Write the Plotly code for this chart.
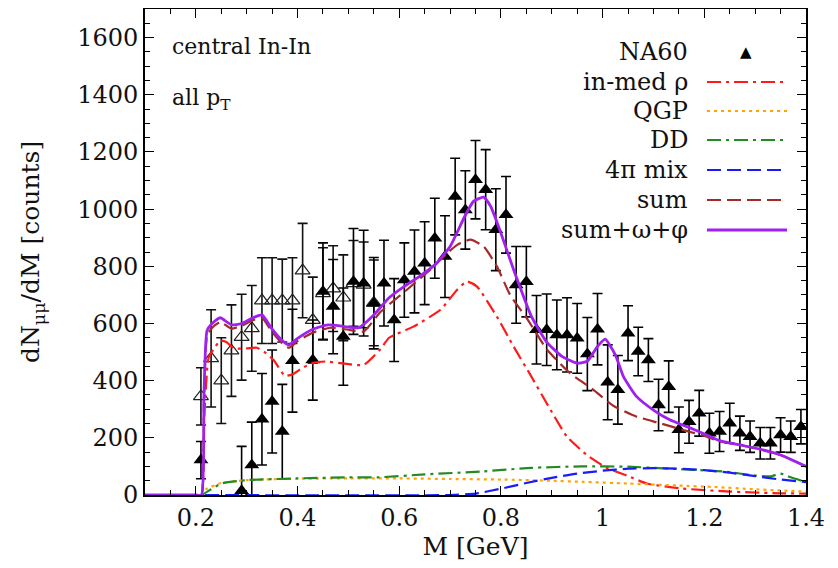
import plotly.graph_objects as go

# ---------------- data ----------------
# NA60 filled triangles
na60_m = [0.21, 0.29, 0.31, 0.33, 0.35, 0.37, 0.39, 0.43, 0.45, 0.47, 0.49, 0.51, 0.53, 0.55,
          0.57, 0.59, 0.61, 0.63, 0.65, 0.67, 0.69, 0.71, 0.73, 0.75, 0.77, 0.79, 0.81, 0.83,
          0.85, 0.87, 0.89, 0.91, 0.93, 0.95, 0.97, 0.99, 1.01, 1.03, 1.05, 1.07, 1.09, 1.11,
          1.13, 1.15, 1.17, 1.19, 1.21, 1.23, 1.25, 1.27, 1.29, 1.31, 1.33, 1.35, 1.37, 1.39]
na60_n = [122, 15, 105, 265, 327, 222, 470, 472, 712, 659, 554, 747, 741, 671,
          741, 612, 752, 782, 811, 898, 834, 1044, 997, 1103, 1068, 928, 980, 735,
          746, 578, 578, 560, 560, 548, 493, 580, 394, 368, 566, 502, 472, 315,
          379, 228, 256, 286, 216, 222, 251, 216, 204, 181, 181, 210, 204, 239]
na60_err = [65, 155, 150, 160, 180, 165, 180, 140, 170, 165, 170, 185, 185, 160,
            150, 145, 130, 145, 145, 140, 143, 134, 137, 137, 140, 143, 134, 134,
            123, 120, 125, 122, 130, 122, 128, 125, 131, 120, 96, 85, 75, 90,
            90, 80, 75, 80, 70, 70, 70, 60, 55, 55, 55, 60, 55, 60]

# open triangles
open_m = [0.21, 0.23, 0.25, 0.27, 0.29, 0.31, 0.33, 0.35, 0.37, 0.39, 0.41, 0.43, 0.45,
          0.47, 0.49, 0.51, 0.53, 0.55]
open_n = [345, 478, 400, 505, 552, 583, 680, 680, 680, 680, 785, 612, 705,
          722, 690, 740, 735, 672]
open_err = [100, 170, 150, 160, 150, 150, 150, 150, 145, 150, 165, 150, 160,
            150, 150, 150, 150, 150]

# theory curves
rho_m = [0.10, 0.20, 0.211, 0.216, 0.225, 0.235, 0.248, 0.26, 0.275, 0.30, 0.32, 0.335, 0.353,
         0.375, 0.39, 0.41, 0.43, 0.455, 0.485, 0.53, 0.563, 0.58, 0.628, 0.681, 0.714, 0.733,
         0.753, 0.792, 0.825, 0.858, 0.89, 0.93, 0.969, 1.008, 1.048, 1.087, 1.153, 1.25, 1.35, 1.40]
rho_n = [0, 0, 0, 250, 480, 510, 540, 535, 513, 513, 515, 500, 472,
         417, 422, 445, 462, 467, 461, 455, 510, 550, 589, 648, 718, 747,
         729, 624, 519, 420, 321, 204, 140, 95, 68, 40, 23, 12, 6, 5]

qgp_m = [0.10, 0.20, 0.211, 0.22, 0.25, 0.30, 0.40, 0.50, 0.60, 0.70, 0.80, 0.90, 0.96, 1.05,
         1.15, 1.22, 1.30, 1.40]
qgp_n = [0, 0, 0, 20, 42, 52, 57, 58, 58, 56, 54, 50, 46, 40, 33, 28, 20, 12]

dd_m = [0.10, 0.20, 0.211, 0.23, 0.25, 0.30, 0.40, 0.50, 0.56, 0.65, 0.76, 0.86, 0.96, 1.05,
        1.12, 1.24, 1.30, 1.33, 1.35, 1.37, 1.40]
dd_n = [0, 0, 0, 20, 40, 52, 58, 62, 62, 72, 82, 95, 100, 99, 93, 82, 68, 65, 75, 62, 45]

mix_m = [0.10, 0.70, 0.75, 0.80, 0.85, 0.90, 0.95, 1.00, 1.05, 1.10, 1.15, 1.20, 1.25, 1.30,
         1.35, 1.40]
mix_n = [0, 0, 5, 22, 42, 60, 75, 85, 92, 94, 92, 87, 78, 66, 54, 45]

sum_m = [0.10, 0.20, 0.211, 0.216, 0.222, 0.232, 0.248, 0.27, 0.29, 0.31, 0.33, 0.35, 0.37,
         0.383, 0.40, 0.43, 0.465, 0.50, 0.53, 0.563, 0.615, 0.661, 0.694, 0.714, 0.74, 0.766,
         0.792, 0.818, 0.851, 0.89, 0.936, 0.982, 1.021, 1.067, 1.113, 1.159, 1.205, 1.23,
         1.27, 1.31, 1.35, 1.40]
sum_n = [0, 0, 0, 330, 555, 585, 605, 582, 592, 610, 620, 570, 530,
         515, 538, 568, 585, 578, 572, 640, 718, 788, 845, 875, 893, 869,
         800, 700, 618, 510, 426, 368, 312, 274, 251, 227, 204, 187,
         175, 160, 140, 100]

tot_m = [0.10, 0.20, 0.211, 0.216, 0.222, 0.232, 0.248, 0.27, 0.29, 0.31, 0.33, 0.35, 0.37,
         0.383, 0.40, 0.43, 0.46, 0.49, 0.52, 0.55, 0.58, 0.61, 0.64, 0.67, 0.70, 0.727,
         0.746, 0.766, 0.78, 0.80, 0.825, 0.86, 0.89, 0.92, 0.95, 0.97, 0.99, 1.005, 1.025,
         1.041, 1.067, 1.10, 1.133, 1.166, 1.205, 1.23, 1.27, 1.31, 1.35, 1.40]
tot_n = [0, 0, 0, 350, 575, 600, 620, 595, 600, 618, 630, 580, 540,
         525, 548, 580, 595, 590, 585, 630, 690, 730, 765, 805, 869, 968,
         1027, 1042, 1009, 916, 788, 625, 535, 485, 461, 468, 520, 545, 490,
         414, 344, 297, 262, 239, 210, 190, 175, 160, 140, 100]

x_tickvals = [0.2, 0.4, 0.6, 0.8, 1.0, 1.2, 1.4]
x_ticktext = ["0.2", "0.4", "0.6", "0.8", "1", "1.2", "1.4"]
y_tickvals = [0, 200, 400, 600, 800, 1000, 1200, 1400, 1600]

legend_labels = ["NA60", "in-med ρ", "QGP", "DD", "4π mix", "sum", "sum+ω+φ"]

# ---------------- styles ----------------
FONT = "DejaVu Serif"
C_RHO = "#ff1a1a"
C_QGP = "#ffa500"
C_DD = "#228b22"
C_MIX = "#1a1aff"
C_SUM = "#a52a2a"
C_TOT = "#a020f0"

styles = [
    (C_RHO, "14px,5px,3px,5px", 2.2),
    (C_QGP, "3px,4px", 2.2),
    (C_DD, "14px,5px,3px,5px", 2.2),
    (C_MIX, "14px,6px", 2.2),
    (C_SUM, "14px,6px", 2.2),
    (C_TOT, "solid", 2.8),
]

fig = go.Figure()

# data points
fig.add_trace(go.Scatter(
    x=open_m, y=open_n, mode="markers",
    marker=dict(symbol="triangle-up-open", size=13, color="#222",
                line=dict(width=1.2, color="#222")),
    error_y=dict(type="data", array=open_err, color="#111", thickness=1.6, width=5),
    showlegend=False))
fig.add_trace(go.Scatter(
    x=na60_m, y=na60_n, mode="markers",
    marker=dict(symbol="triangle-up", size=13, color="#000"),
    error_y=dict(type="data", array=na60_err, color="#000", thickness=1.6, width=5),
    showlegend=False))

curves = [(rho_m, rho_n), (qgp_m, qgp_n), (dd_m, dd_n), (mix_m, mix_n),
          (sum_m, sum_n), (tot_m, tot_n)]
for (cm, cn), (col, dash, w) in zip(curves, styles):
    fig.add_trace(go.Scatter(
        x=cm, y=cn, mode="lines",
        line=dict(color=col, dash=dash, width=w, shape="spline", smoothing=0.5),
        showlegend=False))

# page places the figure 8px from the top-left corner of the window
OFF = 8
FIG_W = 838 - OFF
FIG_H = 568 - OFF
# target plot frame in window pixels
L = 145; R = 806; T = 9; B = 495
W = R - L; H = B - T
def px(x):
    return (x - L) / W
def py(y):
    return (B - y) / H

row_y = [52, 82, 111, 140, 170, 200, 230]
annotations = []
shapes = []
for i, (lab, yy) in enumerate(zip(legend_labels, row_y)):
    annotations.append(dict(
        x=px(690), y=py(yy), xref="paper", yref="paper", text=lab,
        showarrow=False, xanchor="right", yanchor="middle",
        font=dict(family=FONT, size=24, color="#111")))
    if i == 0:
        annotations.append(dict(
            x=px(746), y=py(yy), xref="paper", yref="paper", text="▲",
            showarrow=False, xanchor="center", yanchor="middle",
            font=dict(family="DejaVu Sans", size=15, color="#000")))
    else:
        col, dash, w = styles[i - 1]
        shapes.append(dict(
            type="line", xref="paper", yref="paper",
            x0=px(707), x1=px(787), y0=py(yy), y1=py(yy),
            line=dict(color=col, dash=dash, width=w)))

annotations.append(dict(
    x=px(170), y=py(47), xref="paper", yref="paper", text="central In-In",
    showarrow=False, xanchor="left", yanchor="middle",
    font=dict(family=FONT, size=22, color="#111")))
annotations.append(dict(
    x=px(170), y=py(100), xref="paper", yref="paper", text="all p<sub>T</sub>",
    showarrow=False, xanchor="left", yanchor="middle",
    font=dict(family=FONT, size=22, color="#111")))

fig.update_layout(
    width=FIG_W, height=FIG_H,
    margin=dict(l=L - OFF, r=FIG_W - (R - OFF), t=T - OFF, b=FIG_H - (B - OFF)),
    plot_bgcolor="white", paper_bgcolor="white",
    font=dict(family=FONT, size=24, color="#111"),
    annotations=annotations, shapes=shapes,
    showlegend=False,
)
fig.update_xaxes(
    range=[0.1, 1.4], tickvals=x_tickvals, ticktext=x_ticktext,
    ticks="inside", ticklen=9, tickwidth=1.3, tickcolor="black",
    minor=dict(dtick=0.05, tick0=0, ticks="inside", ticklen=5, tickwidth=1.2, tickcolor="black"),
    showline=True, linecolor="black", linewidth=1.8, mirror="allticks",
    showgrid=False, zeroline=False, automargin=False,
    tickfont=dict(family=FONT, size=24, color="#111"),
    title=dict(text="M [GeV]", font=dict(family=FONT, size=25, color="#111"), standoff=6),
)
fig.update_yaxes(
    range=[0, 1700], tickvals=y_tickvals,
    ticks="inside", ticklen=9, tickwidth=1.3, tickcolor="black",
    minor=dict(dtick=50, tick0=0, ticks="inside", ticklen=5, tickwidth=1.2, tickcolor="black"),
    showline=True, linecolor="black", linewidth=1.8, mirror="allticks",
    showgrid=False, zeroline=False, automargin=False,
    tickfont=dict(family=FONT, size=24, color="#111"),
    title=dict(text="dN<sub>μμ</sub>/dM [counts]", font=dict(family=FONT, size=25, color="#111"),
               standoff=30),
)

fig.write_html("out.html")
